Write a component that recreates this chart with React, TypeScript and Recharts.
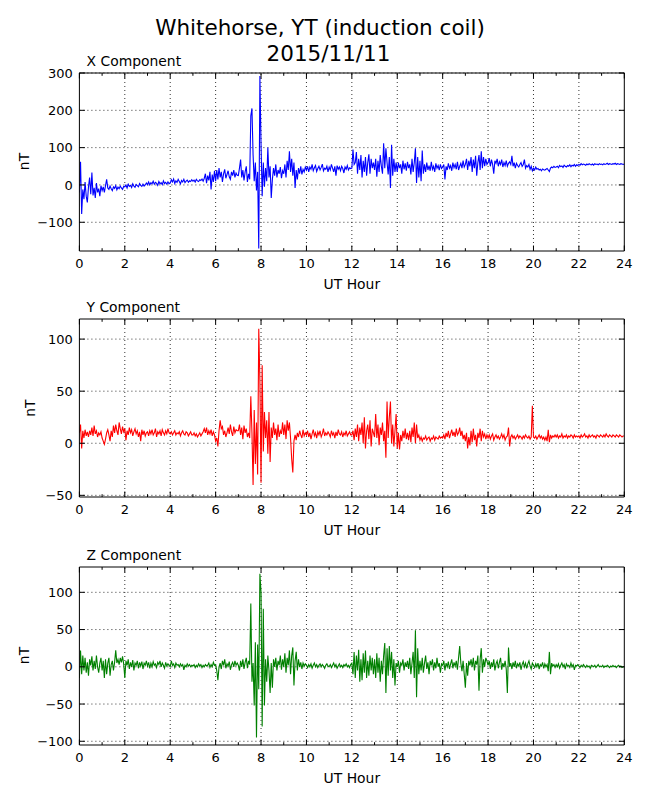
import React from "react";
import { LineChart, Line, XAxis, YAxis, ReferenceLine } from "recharts";

// one sample every 0.05 h (3 min), 0 .. 24 UT, values in nT
const STEP_H = 0.05;

const X_NT = [
  -20, 62, -78, -12, -38, 8, -30, -47, -5, 20, -25, 33, -28, -8, -35, 5, -20, -10, -30, -2,
  -15, -5, -20, -2, 15, -8, -12, -3, -10, -15, -5, -9, -2, -13, -6, -10, -3, -8, -12, -4,
  -5, 0, -8, 2, -4, -1, -7, 3, -3, -6, 1, -2, -5, 4, -1, -4, 2, -3, 0, 5,
  1, 8, 0, 6, 3, 10, 2, 7, 4, -1, 9, 3, 6, 1, 11, 4, 7, 2, 8, 3,
  5, 14, 8, 16, 4, 11, 7, 15, 9, 3, 12, 8, 15, 6, 10, 13, 7, 11, 9, 14,
  10, 13, 8, 15, 11, 9, 14, 12, 16, 10, 18, 30, 5, 25, 12, 35, -12, 28, 8, 38,
  10, 40, 15, 45, 20, 35, 8, 30, 42, 18, 28, 38, 22, 15, 35, 25, 40, 20, 32, 26,
  25, 45, 68, 20, 40, 12, 35, 50, 8, 30, 15, 185, 205, 80, 10, 60, -15, 35, -170, 292,
  110, -30, 60, -5, 45, 10, 100, 20, 50, -35, 15, 45, 25, 55, 20, 40, 30, 48, 18, 38,
  30, 55, 20, 65, 40, 90, 35, 70, 25, 60, -8, 40, 15, 45, 30, 50, 28, 42, 35, 48,
  40, 50, 35, 48, 42, 55, 38, 46, 52, 36, 44, 50, 40, 47, 56, 38, 45, 42, 50, 35,
  48, 40, 55, 45, 35, 50, 25, 52, 42, 48, 38, 50, 44, 32, 48, 42, 52, 40, 46, 44,
  45, 95, 55, 60, 88, 30, 70, 40, 80, 20, 65, 35, 75, 25, 60, 82, 30, 70, 45, 60,
  40, 70, 22, 65, 35, 80, 50, 30, 112, 45, 98, 60, 28, 75, -8, 108, 25, 70, 35, 60,
  35, 60, 45, 55, 30, 65, 42, 58, 38, 62, 45, 55, 28, 70, 35, 60, 98, 5, 75, 20,
  65, 10, 92, 30, 55, 35, 60, 40, 52, 38, 62, 42, 50, 35, 58, 45, 52, 40, 55, 44,
  48, 55, 15, 50, 40, 58, 45, 52, 38, 60, 46, 55, 42, 62, 40, 50, 58, 45, 65, 48,
  55, 70, 40, 65, 50, 75, 35, 68, 45, 78, 25, 60, 80, 40, 90, 45, 75, 50, 70, 55,
  60, 72, 50, 68, 55, 30, 65, 58, 70, 50, 62, 55, 68, 48, 60, 52, 65, 50, 58, 62,
  55, 78, 50, 60, 45, 58, 52, 48, 55, 60, 50, 55, 68, 45, 52, 48, 55, 42, 50, 38,
  45, 40, 48, 42, 44, 40, 42, 38, 43, 41, 40, 42, 44, 40, 36, 45, 48, 46, 50, 47,
  48, 50, 46, 52, 49, 51, 47, 53, 50, 48, 52, 50, 54, 49, 53, 51, 55, 50, 54, 52,
  55, 53, 57, 54, 56, 55, 53, 56, 54, 57, 55, 54, 56, 53, 57, 55, 56, 54, 57, 55,
  56, 54, 57, 55, 56, 58, 55, 57, 56, 55, 57, 56, 58, 55, 57, 56, 55, 57, 56, 55,
  56,
];

const Y_NT = [
  10, 18, -5, 12, 5, 13, 7, 11, 6, 12, 8, 15, 7, 17, 9, 12, 6, 10, 8, 11,
  5, 2, -1, 4, 10, 13, 8, 2, 12, 6, 17, 10, 18, 12, 8, 20, 14, 9, 16, 11,
  14, 3, 12, 8, 15, 10, 13, 7, 11, 14, 9, 12, 6, 11, 2, 13, 8, 12, 7, 10,
  11, 7, 12, 9, 13, 8, 10, 14, 6, 11, 9, 12, 7, 13, 10, 8, 12, 9, 14, 10,
  9, 11, 8, 10, 12, 8, 10, 9, 11, 7, 10, 12, 9, 8, 11, 10, 7, 9, 11, 8,
  8, 10, 7, 9, 6, 8, 10, 7, 9, 11, 14, 10, 15, 8, 12, 9, 13, 7, 11, 8,
  2, 5, -3, 12, 22, 14, 16, 8, 12, 6, 10, 15, 9, 18, 11, 7, 16, 10, 13, 12,
  12, 18, 8, 15, 4, 17, 10, 14, 6, 10, 5, 45, 10, -40, 32, -20, 20, -30, 110, 60,
  -38, 75, -8, 30, 5, 22, -10, 30, -18, 15, 5, 20, 8, 14, 3, 18, 6, 12, 9, 20,
  8, 18, 4, 22, 12, 20, 5, -15, -28, 2, 8, 3, 10, 6, 12, 8, 5, 13, 7, 10,
  8, 12, 6, 10, 4, 9, 13, 7, 10, 5, 11, 8, 12, 6, 9, 14, 7, 10, 8, 11,
  9, 6, 12, 8, 10, 5, 11, 7, 13, 9, 8, 11, 6, 10, 8, 12, 7, 9, 11, 8,
  8, 12, 3, 14, 6, 18, 2, 15, 8, 20, 0, 25, -5, 12, 18, 4, 22, -3, 14, 10,
  6, 28, 5, 18, -2, 15, 8, 20, 2, 12, -14, 40, 5, 25, 40, 0, 18, -3, 12, 28,
  -5, 10, -6, 8, 2, 12, 5, 14, 4, 10, 3, 12, 1, 15, 6, 20, 0, 18, 5, 8,
  3, 6, 2, 5, 4, 7, 3, 5, 6, 2, 5, 4, 7, 3, 6, 5, 4, 7, 5, 6,
  5, 8, 4, 10, 6, 12, 5, 9, 13, 7, 11, 6, 14, 8, 10, 15, 7, 12, 4, 8,
  2, 10, -5, 6, -2, 12, 1, 14, 3, 8, -3, 10, 5, 14, 2, 12, 6, 9, 4, 8,
  5, 8, 4, 7, 9, 3, 6, 8, 5, 7, 4, 6, 9, 5, 8, 3, 6, 7, 15, -3,
  6, 8, 5, 7, 4, 6, 8, 5, 7, 6, 4, 7, 5, 8, 6, 5, 7, 4, 6, 36,
  6, 5, 7, 4, 6, 8, 5, 7, 4, 6, 3, 6, 2, 13, 1, 8, 5, 7, 6, 8,
  6, 8, 5, 7, 6, 9, 5, 7, 6, 8, 5, 7, 6, 8, 7, 5, 8, 6, 7, 6,
  7, 5, 8, 6, 7, 9, 6, 7, 5, 8, 6, 7, 8, 6, 7, 5, 8, 7, 6, 8,
  7, 6, 8, 6, 9, 7, 6, 8, 7, 6, 8, 7, 6, 8, 7, 6, 8, 7, 6, 7,
  7,
];

const Z_NT = [
  -15, 22, -10, 15, -5, 12, -8, 6, -12, 10, 2, 14, -5, 8, -3, 15, 0, -8, 5, 12,
  -5, 8, -15, 10, -10, 5, 12, -12, 3, 8, -5, 6, 22, 5, 10, 3, 12, 6, 14, 4,
  -15, 8, 2, 10, -3, 6, 0, 9, -5, 5, 2, 8, -2, 6, 1, 7, -3, 5, 2, 8,
  1, 6, -2, 5, 0, 7, 2, 4, -1, 6, 3, 8, 0, 5, 2, -2, 6, 1, 4, 2,
  0, 8, 2, 4, -1, 5, 2, 3, 0, 4, 1, 3, -4, 2, 0, 4, 1, 3, 0, 2,
  1, 3, -1, 2, 0, 4, 1, 3, -1, 2, 0, 3, 1, 2, 5, -1, 3, 0, 6, 2,
  3, -5, -18, 0, 5, -3, 8, 2, 10, -2, 4, 1, 7, -4, 3, 6, 0, 8, 2, 5,
  2, -5, 8, 0, 10, -3, 6, 12, -2, 8, 3, 85, -20, 5, -52, 33, -95, 30, -30, 125,
  100, -80, 78, -52, 10, -20, 15, -5, -35, 5, -28, 10, 0, 12, -5, 8, 2, 15, -4, 10,
  0, 18, -8, 12, 2, 22, -10, 15, 26, -25, 8, 20, -5, 10, 0, 6, -3, 5, 1, 4,
  2, -1, 3, 0, 4, -2, 2, 5, 0, 3, -1, 2, 4, 0, 3, 1, -2, 2, 4, 1,
  0, 3, -1, 2, 5, 0, 3, -2, 1, 4, 0, 2, -1, 3, 1, 4, 0, 2, -1, 3,
  5, -10, 20, -15, 15, -5, 23, -20, 10, -18, 18, -8, 22, -15, 8, -12, 15, -5, 12, -10,
  10, -15, 18, -8, 12, -20, 8, -10, 15, 32, -35, 25, -12, 28, -5, 20, -15, 10, -25, 5,
  0, 8, -8, 5, 2, 10, -5, 6, 0, 8, -3, 12, -10, 5, 20, -15, 49, -41, 25, -10,
  8, -5, 12, -8, 5, 15, -3, 6, -10, 8, 2, 10, -5, 6, -2, 12, 0, 5, -8, 4,
  2, 8, -5, 5, 0, 7, -3, 4, 10, -2, 6, 1, 8, -4, 12, 28, 5, -6, 8, -10,
  -28, 5, -12, 8, 2, 10, 0, 12, -5, 8, 3, 15, -32, 10, 25, -8, 10, 0, 12, 8,
  2, 8, -3, 6, 0, 10, -5, 4, 8, -2, 6, 12, -4, 5, 0, 8, -3, -35, 26, 0,
  5, -3, 6, 0, 8, -2, 4, 1, 6, -4, 3, 7, 0, 5, -2, 4, 8, 1, -3, 5,
  2, -1, 4, 0, 5, -3, 3, 1, 6, -2, 4, 0, 3, -6, 20, -10, 5, 1, 3, -1,
  3, 0, 4, -2, 2, 5, 0, 3, -3, 4, 1, 2, -1, 5, 0, 3, -4, 2, 1, 3,
  1, -1, 2, 0, 3, 1, -1, 2, 0, 1, -2, 2, 1, 0, 2, -1, 1, 3, 0, 1,
  0, 2, -1, 1, 0, 2, 1, -1, 1, 0, 2, 0, 1, -1, 1, 2, 0, 1, -1, 0,
  0,
];

const HOUR_TICKS = [0, 1, 2, 3, 4, 5, 6, 7, 8, 9, 10, 11, 12, 13, 14, 15, 16, 17, 18, 19, 20, 21, 22, 23, 24];
const HOUR_GRID = [2, 4, 6, 8, 10, 12, 14, 16, 18, 20, 22];
const X_TICKS = [-100, 0, 100, 200, 300];
const Y_TICKS = [-50, 0, 50, 100];
const Z_TICKS = [-100, -50, 0, 50, 100];

const FONT = "'DejaVu Sans', Verdana, sans-serif";
const W = 650;
const PLOT_LEFT = 79.4;
const PLOT_RIGHT = 624.3;
const PLOT_H = 178;
const PAD_TOP = 10;
const AXIS_H = 50;
const MAJOR = 5.5;
const MINOR = 2.8;

const fmt = (v: number) => (v < 0 ? `\u2212${-v}` : `${v}`);

// matplotlib-style inward ticks, drawn from the axis' own tick positions
const BottomTick = (p: any) => {
  const major = p.payload.value % 2 === 0;
  return (
    <g>
      <line x1={p.x} x2={p.x} y1={p.y} y2={p.y - (major ? MAJOR : MINOR)} stroke="#000" strokeWidth={1} />
      {major && (
        <text x={p.x} y={p.y + 16.5} textAnchor="middle" fontSize={13} fontFamily={FONT} fill="#000">
          {p.payload.value}
        </text>
      )}
    </g>
  );
};

const TopTick = (p: any) => {
  const major = p.payload.value % 2 === 0;
  return <line x1={p.x} x2={p.x} y1={p.y} y2={p.y + (major ? MAJOR : MINOR)} stroke="#000" strokeWidth={1} />;
};

const LeftTick = (p: any) => (
  <g>
    <line x1={p.x} x2={p.x + MAJOR} y1={p.y} y2={p.y} stroke="#000" strokeWidth={1} />
    <text x={p.x - 6.5} y={p.y + 4.7} textAnchor="end" fontSize={13} fontFamily={FONT} fill="#000">
      {fmt(p.payload.value)}
    </text>
  </g>
);

const RightTick = (p: any) => (
  <line x1={p.x} x2={p.x - MAJOR} y1={p.y} y2={p.y} stroke="#000" strokeWidth={1} />
);

const gridStyle = { stroke: "#000", strokeDasharray: "1 3", strokeWidth: 0.8 };

function Panel({
  values,
  color,
  domain,
  ticks,
  top,
}: {
  values: number[];
  color: string;
  domain: [number, number];
  ticks: number[];
  top: number;
}) {
  const data = values.map((v, i) => ({ h: i * STEP_H, v }));
  const frame = { stroke: "#000", strokeWidth: 1 };
  return (
    <div style={{ position: "absolute", left: 0, top: top - PAD_TOP }}>
      <LineChart width={W} height={PAD_TOP + PLOT_H + AXIS_H} data={data} margin={{ top: 0, right: 0, bottom: 0, left: 0 }}>
        <XAxis
          dataKey="h"
          type="number"
          domain={[0, 24]}
          ticks={HOUR_TICKS}
          interval={0}
          allowDataOverflow
          height={AXIS_H}
          tickSize={0}
          tickMargin={0}
          tickLine={false}
          axisLine={frame}
          tick={(p: any) => <BottomTick {...p} />}
        />
        <XAxis
          xAxisId="top"
          orientation="top"
          dataKey="h"
          type="number"
          domain={[0, 24]}
          ticks={HOUR_TICKS}
          interval={0}
          allowDataOverflow
          height={PAD_TOP}
          tickSize={0}
          tickMargin={0}
          tickLine={false}
          axisLine={frame}
          tick={(p: any) => <TopTick {...p} />}
        />
        <YAxis
          type="number"
          domain={domain}
          ticks={ticks}
          interval={0}
          allowDataOverflow
          width={PLOT_LEFT}
          tickSize={0}
          tickMargin={0}
          tickLine={false}
          axisLine={frame}
          tick={(p: any) => <LeftTick {...p} />}
        />
        <YAxis
          yAxisId="right"
          orientation="right"
          type="number"
          domain={domain}
          ticks={ticks}
          interval={0}
          allowDataOverflow
          width={W - PLOT_RIGHT}
          tickSize={0}
          tickMargin={0}
          tickLine={false}
          axisLine={frame}
          tick={(p: any) => <RightTick {...p} />}
        />
        {HOUR_GRID.map((h) => (
          <ReferenceLine key={`gx${h}`} x={h} {...gridStyle} />
        ))}
        {ticks.map((t) => (
          <ReferenceLine key={`gy${t}`} y={t} {...gridStyle} />
        ))}
        <Line dataKey="v" stroke={color} strokeWidth={1.1} dot={false} isAnimationActive={false} />
      </LineChart>
    </div>
  );
}

const PANELS = [
  { title: "X Component", values: X_NT, color: "#0000ff", domain: [-177, 300] as [number, number], ticks: X_TICKS, top: 72.5, nTx: 28.5 },
  { title: "Y Component", values: Y_NT, color: "#ff0000", domain: [-51.6, 119.3] as [number, number], ticks: Y_TICKS, top: 319.2, nTx: 35 },
  { title: "Z Component", values: Z_NT, color: "#008000", domain: [-105, 134] as [number, number], ticks: Z_TICKS, top: 566.5, nTx: 28.5 },
];

export default function App() {
  const midX = (PLOT_LEFT + PLOT_RIGHT) / 2;
  return (
    <div style={{ position: "absolute", left: 0, top: 0, width: W, height: 800, background: "#fff" }}>
      {PANELS.map((p) => (
        <Panel key={p.title} values={p.values} color={p.color} domain={p.domain} ticks={p.ticks} top={p.top} />
      ))}
      <svg width={W} height={800} style={{ position: "absolute", left: 0, top: 0, pointerEvents: "none" }} fontFamily={FONT}>
        <text x={320} y={35} textAnchor="middle" fontSize={21.5} fill="#000">
          Whitehorse, YT (induction coil)
        </text>
        <text x={328.5} y={61} textAnchor="middle" fontSize={21.5} fill="#000">
          2015/11/11
        </text>
        {PANELS.map((p) => (
          <g key={p.title}>
            <text x={86.5} y={p.top - 7} fontSize={13.9} fill="#000">
              {p.title}
            </text>
            <text x={midX} y={p.top + PLOT_H + 38} textAnchor="middle" fontSize={13.9} fill="#000">
              UT Hour
            </text>
            <text
              x={p.nTx}
              y={p.top + PLOT_H / 2}
              textAnchor="middle"
              fontSize={13.9}
              fill="#000"
              transform={`rotate(-90 ${p.nTx} ${p.top + PLOT_H / 2})`}
            >
              nT
            </text>
          </g>
        ))}
      </svg>
    </div>
  );
}
